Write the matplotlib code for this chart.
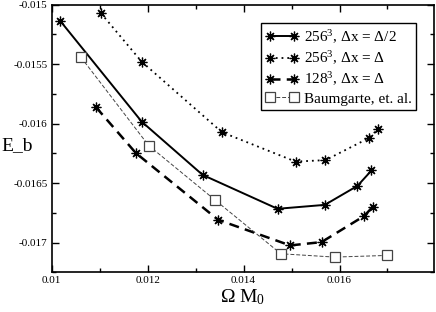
import matplotlib
matplotlib.use("Agg")
import matplotlib.pyplot as plt
from matplotlib.ticker import MultipleLocator, FuncFormatter

plt.rcParams['font.family'] = ['Liberation Serif', 'DejaVu Serif']
plt.rcParams['mathtext.fontset'] = 'custom'
plt.rcParams['mathtext.rm'] = 'Liberation Serif'
plt.rcParams['mathtext.it'] = 'Liberation Serif:italic'

# 256^3, dx = Delta/2
x_fin = [0.010173, 0.011875, 0.013146, 0.014708, 0.015694, 0.016375, 0.016667]
y_fin = [-0.015134, -0.015983, -0.016431, -0.016716, -0.016683, -0.016523, -0.016394]

# 256^3, dx = Delta
x_256 = [0.011027, 0.011875, 0.013548, 0.015083, 0.015708, 0.016610, 0.016804]
y_256 = [-0.015072, -0.015479, -0.016072, -0.016319, -0.016307, -0.016122, -0.016044]

# 128^3, dx = Delta
x_128 = [0.010923, 0.011756, 0.013471, 0.014971, 0.015625, 0.016512, 0.016700]
y_128 = [-0.015862, -0.016248, -0.016809, -0.017024, -0.016996, -0.016777, -0.016697]

# Baumgarte et al.
x_bau = [0.010610, 0.012021, 0.013402, 0.014777, 0.015896, 0.017000]
y_bau = [-0.015442, -0.016184, -0.016641, -0.017094, -0.017122, -0.017108]

etoile = (8, 2, 0)

fig = plt.figure(figsize=(4.36, 3.12), dpi=100)
ax = fig.add_axes([0.1186, 0.1272, 0.8768, 0.8578])

ax.plot(x_fin, y_fin, color='black', lw=1.4, marker=etoile, ms=7, mew=0.9,
        label='256$^3$, Δx = Δ/2')
ax.plot(x_256, y_256, color='black', lw=1.3, ls=(0, (1, 2.2)), marker=etoile, ms=7, mew=0.9,
        label='256$^3$, Δx = Δ')
ax.plot(x_128, y_128, color='black', lw=1.8, ls=(0, (4, 2.5)), marker=etoile, ms=7, mew=0.9,
        label='128$^3$, Δx = Δ')
ax.plot(x_bau, y_bau, color='#444444', lw=0.7, ls=(0, (4, 2)), marker='s', ms=6.5,
        mfc='white', mec='#444444', mew=0.9, label='Baumgarte, et. al.')

ax.set_xlim(0.01, 0.01797)
ax.set_ylim(-0.01725, -0.015)

ax.xaxis.set_major_locator(MultipleLocator(0.002))
ax.xaxis.set_minor_locator(MultipleLocator(0.001))
ax.yaxis.set_major_locator(MultipleLocator(0.0005))
ax.yaxis.set_minor_locator(MultipleLocator(0.00025))
fmt = FuncFormatter(lambda v, p: '%g' % round(v, 6))
ax.xaxis.set_major_formatter(fmt)
ax.yaxis.set_major_formatter(fmt)

ax.tick_params(which='both', direction='in', top=True, right=True, labelsize=8, width=1.0)
ax.tick_params(which='major', length=5, pad=3)
ax.tick_params(which='minor', length=3)
for s in ax.spines.values():
    s.set_linewidth(1.2)

ax.set_xlabel(r'Ω M$_0$', fontsize=14, labelpad=1)
ax.set_ylabel('E_b', fontsize=14, rotation=0, va='center', ha='center')
ax.yaxis.set_label_coords(-0.091, 0.472)

leg = ax.legend(loc='upper right', bbox_to_anchor=(0.953, 0.930), borderaxespad=0,
                fontsize=11, numpoints=2, handlelength=2.2, handletextpad=0.3,
                labelspacing=0.25, borderpad=0.3, fancybox=False, framealpha=1)
leg.get_frame().set_edgecolor('black')
leg.get_frame().set_linewidth(1.0)

fig.savefig('out.png', dpi=100)
